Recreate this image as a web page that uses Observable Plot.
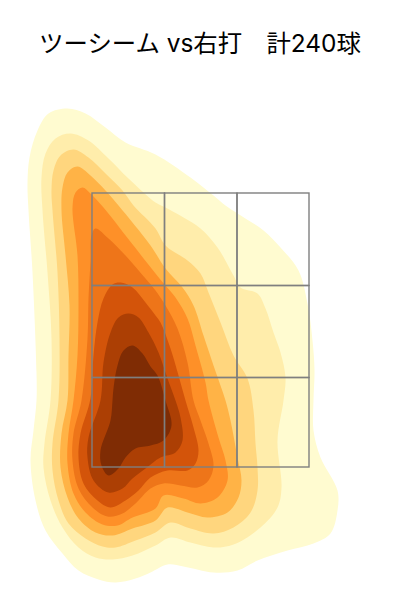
<!DOCTYPE html>
<html><head><meta charset="utf-8">
<script src="https://cdn.jsdelivr.net/npm/d3@7"></script>
<script src="https://cdn.jsdelivr.net/npm/@observablehq/plot@0.6"></script>
<style>
html,body{margin:0;padding:0;background:#fff;overflow:hidden}
#title{height:85px;box-sizing:border-box;padding-top:26px;text-align:center;font:24.4px/34px Inter,"Noto Sans CJK JP","Noto Sans",sans-serif;color:#000;white-space:pre}
svg{display:block}
</style></head><body>
<div id="title"></div>
<div id="chart"></div>
<script>
const titleText = "ツーシーム vs右打　計240球";
const zoneX = [92, 164.5, 237, 309];
const zoneY = [193, 285.5, 377.5, 467];
const bandColors = ["#FFFBD0","#FFEDAB","#FFD67E","#FFB346","#FE9028","#EE7519","#D3540A","#AC3F04","#7F2C04"];
const band1 = [[67,108],[85,113],[105,127],[125,142],[155,154],[190,177],[213,195],[225,205],[237,213],[263,230],[280,247],[298,270],[307,303],[312,340],[314,370],[313,400],[313,430],[320,457],[337,490],[337,510],[330,533],[313,543],[287,550],[257,560],[237,570],[213,572],[183,566],[167,564],[150,572],[135,578],[115,582],[98,579],[78,570],[62,553],[45,530],[35,500],[30,460],[33,430],[36,400],[36,372],[32,272],[28,210],[27,183],[29,157],[37,130],[48,113]];
const band2 = [[70,133],[88,140],[108,158],[128,178],[155,202],[165,207],[183,217],[200,228],[217,247],[233,275],[240,287],[257,293],[265,308],[273,332],[280,352],[285,377],[283,400],[277,440],[281,487],[277,507],[260,527],[233,544],[213,547],[190,542],[170,537],[155,545],[132,555],[112,559],[95,557],[78,547],[62,527],[50,500],[43,467],[44,443],[50,400],[51,338],[47,272],[42,210],[41,177],[45,153],[55,138]];
const band3 = [[73,149],[88,157],[105,173],[122,190],[133,205],[155,228],[165,245],[187,260],[200,273],[208,292],[220,322],[233,355],[247,378],[253,410],[255,443],[257,467],[257,490],[250,512],[233,527],[213,533],[190,528],[170,522],[155,532],[135,540],[115,547],[102,546],[85,538],[68,523],[58,500],[52,470],[52,443],[58,400],[59,338],[57,272],[52,210],[51,190],[53,170],[60,155]];
const band4 = [[77,166],[90,175],[105,190],[118,205],[150,245],[165,268],[182,287],[193,305],[203,335],[213,365],[225,400],[230,420],[237,457],[241,480],[238,497],[227,512],[207,517],[187,512],[167,507],[155,520],[132,528],[112,535],[95,532],[78,518],[67,497],[60,467],[61,433],[67,400],[68,355],[69,305],[65,255],[61,210],[62,187],[67,172]];
const band5 = [[82,187],[90,193],[103,207],[129,240],[155,273],[165,285],[175,297],[187,318],[195,345],[205,382],[208,400],[218,437],[225,460],[227,480],[217,497],[200,503],[183,498],[163,495],[155,508],[132,517],[117,525],[102,524],[85,512],[73,493],[67,463],[68,433],[73,400],[77,355],[78,305],[77,255],[72,207],[75,192]];
const band6 = [[95,228],[108,238],[125,255],[145,278],[155,290],[165,305],[177,328],[187,362],[193,400],[200,420],[208,443],[213,465],[208,480],[197,487],[180,485],[163,483],[150,488],[135,503],[122,513],[107,516],[92,507],[78,488],[72,460],[73,433],[81,400],[87,338],[88,298],[90,260],[91,235]];
const band7 = [[120,282],[132,287],[145,302],[155,315],[160,322],[170,348],[178,375],[185,400],[193,427],[198,450],[195,463],[187,470],[167,470],[150,477],[138,490],[125,500],[110,507],[97,500],[83,483],[78,457],[80,433],[90,398],[93,355],[97,322],[103,298],[112,284]];
const band8 = [[128,313],[138,317],[148,332],[158,352],[167,378],[175,400],[180,417],[182,440],[175,452],[160,457],[145,468],[132,478],[122,488],[108,492],[93,480],[87,457],[88,437],[100,400],[103,362],[110,332],[118,317]];
const band9 = [[132,345],[142,353],[150,366],[157,375],[165,400],[171,425],[163,440],[150,445],[135,448],[125,457],[118,468],[108,475],[101,465],[100,450],[110,420],[112,400],[113,388],[117,365],[123,350]];
const bands = [band1,band2,band3,band4,band5,band6,band7,band8,band9];
const cells = [];
for (let i=0;i<3;i++) for (let j=0;j<3;j++) cells.push({x1:zoneX[i],x2:zoneX[i+1],y1:zoneY[j],y2:zoneY[j+1]});
const chart = Plot.plot({
  width:400,height:515,margin:0,
  x:{domain:[0,400],axis:null},
  y:{domain:[600,85],axis:null},
  marks:[
    ...bands.map((b,i)=>Plot.line(b,{x:d=>d[0],y:d=>d[1],fill:bandColors[i],stroke:"none",curve:"catmull-rom-closed"})),
    Plot.rect(cells,{x1:"x1",x2:"x2",y1:"y1",y2:"y2",fill:"none",stroke:"#7f7f7f",strokeWidth:1.4})
  ]
});
document.getElementById("chart").append(chart);
document.getElementById("title").textContent = titleText;
</script>
</body></html>
